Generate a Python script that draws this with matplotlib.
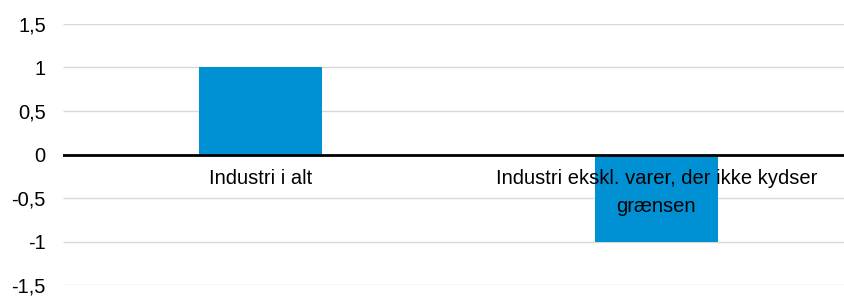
import matplotlib

matplotlib.use("Agg")
import matplotlib.pyplot as plt

categories = ["Industri i alt", "Industri ekskl. varer, der ikke kydser\ngrænsen"]
values = [1.0, -1.0]
y_ticks = [-1.5, -1.0, -0.5, 0.0, 0.5, 1.0, 1.5]
y_labels = ["-1,5", "-1", "-0,5", "0", "0,5", "1", "1,5"]

plt.rcParams["font.family"] = ["Liberation Sans", "DejaVu Sans"]

fig = plt.figure(figsize=(8.45, 2.96), dpi=100)
ax = fig.add_axes([0.074, 0.036, 0.937, 0.884])

x = list(range(len(categories)))
ax.hlines(y_ticks, -0.5, len(categories) - 0.5, color="#d9d9d9", linewidth=1, zorder=0)
ax.bar(x, values, width=0.31, color="#0091d5", zorder=2)
ax.axhline(0, color="black", linewidth=2, zorder=3)

for xi, label in zip(x, categories):
    ax.text(xi, -0.17, label, ha="center", va="top", fontsize=14.5,
            linespacing=1.55, color="black", zorder=4)

ax.set_xlim(-0.5, len(categories) - 0.5)
ax.set_ylim(-1.5, 1.5)
ax.set_xticks([])
ax.set_yticks(y_ticks)
ax.set_yticklabels(y_labels, fontsize=14.5)
ax.tick_params(axis="y", length=0, pad=12)
for spine in ax.spines.values():
    spine.set_visible(False)

fig.savefig("out.png", dpi=100, facecolor="white")
